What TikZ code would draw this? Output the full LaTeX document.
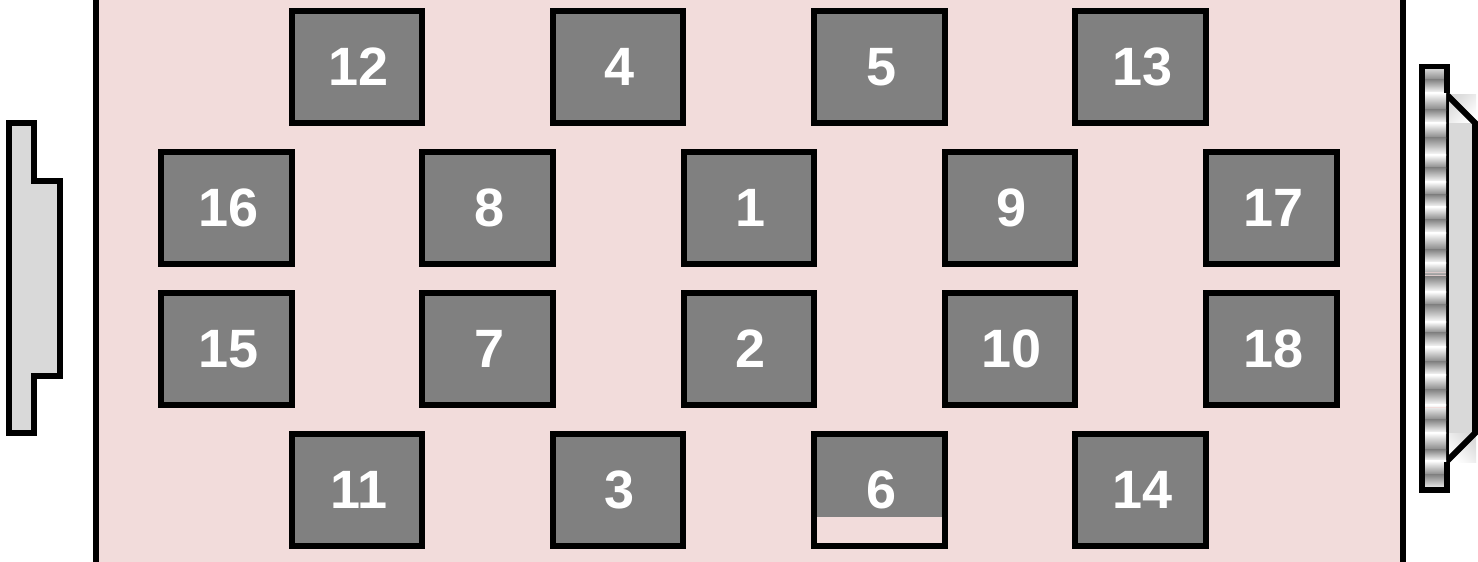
\documentclass[tikz,border=0pt]{standalone}
\usepackage{fontspec}
\setmainfont{Liberation Sans}
\definecolor{panelpink}{HTML}{F2DCDB}
\definecolor{boxgray}{HTML}{808080}
\definecolor{partgray}{HTML}{D9D9D9}
\definecolor{ridgedark}{HTML}{858585}
\tikzset{
  cellbox/.style={draw=black,line width=6pt,fill=boxgray,text=white,minimum width=130.5pt,minimum height=112pt,inner sep=0pt,font=\fontsize{54}{54}\selectfont\bfseries,execute at begin node={\hspace*{3.5pt}}},
  emptycell/.style={cellbox,fill=none},
  wall/.style={draw=black,line width=6pt},
  part/.style={draw=black,line width=6pt,fill=partgray,line join=miter},
}
\begin{document}
\begin{tikzpicture}[x=1pt,y=-1pt]
\useasboundingbox (0,0) rectangle (1478,562);
\fill[white] (0,0) rectangle (1478,562);
% panel
\fill[panelpink] (96,0) rectangle (1402.5,562);
\coordinate (wl1) at (96,0); \coordinate (wl2) at (96,562);
\coordinate (wr1) at (1402.5,0); \coordinate (wr2) at (1402.5,562);
\draw[wall] (wl1) -- (wl2);
\draw[wall] (wr1) -- (wr2);
% cells
\foreach \n/\x/\y in {12/357/67,4/618/67,5/879.5/67,13/1140.5/67,
  16/226.5/208,8/487.5/208,1/749/208,9/1010/208,17/1271.5/208,
  15/226.5/349,7/487.5/349,2/749/349,10/1010/349,18/1271.5/349,
  11/357/490,3/618/490,14/1140.5/490}{
  \node[cellbox] (c\n) at (\x,\y) {\n};
}
\node[emptycell,path picture={\fill[boxgray] (path picture bounding box.north west) rectangle ([yshift=29pt]path picture bounding box.south east);}] (c6) at (879.5,490) {6};
% left part
\draw[part] (9,123) -- (34,123) -- (34,181) -- (60,181) -- (60,376) -- (34,376) -- (34,433) -- (9,433) -- cycle;
% right part: corner glow
\shade[shading=axis,left color=partgray,right color=white,shading angle=45] (1449,94) rectangle (1476,123);
\shade[shading=axis,left color=partgray,right color=white,shading angle=-45] (1449,433) rectangle (1476,462);
\fill[partgray] (1449,123) rectangle (1472,433);
\draw[black,line width=6pt,line join=miter] (1447,95) -- (1475,123) -- (1475,433) -- (1447,461);
% ridged strip
\fill[black] (1419,64) rectangle (1450,93);
\fill[black] (1419,93) rectangle (1449,462);
\fill[black] (1419,462) rectangle (1450,493);
\foreach \yb/\cb [remember=\yb as \ya (initially 70),remember=\cb as \ca (initially white!60!ridgedark)] in {
  80/ridgedark,93/white,110/ridgedark,123/white,138/ridgedark,155/white,168/ridgedark,182/white,195/ridgedark,207/white,220/ridgedark,233/white,250/ridgedark,263/white,277/ridgedark,292/white,305/ridgedark,322/white,333/ridgedark,347/white,362/ridgedark,375/white,390/ridgedark,405/white,420/ridgedark,433/white,450/ridgedark,461/white,475/ridgedark,487/white!80!ridgedark}{
  \shade[top color=\ca,bottom color=\cb] (1425,\ya-0.2) rectangle (1446,\yb+0.2);
}
\fill[black] (1444,64) rectangle (1450,93);
\fill[black] (1444,462) rectangle (1450,493);
\fill[black] (1419,487) rectangle (1450,493);
\fill[panelpink!80!gray] (1425,272) rectangle (1446,273);
\fill[panelpink!80!gray] (1425,275) rectangle (1446,276);
\fill[panelpink] (1425,407) rectangle (1446,408);
\end{tikzpicture}
\end{document}
